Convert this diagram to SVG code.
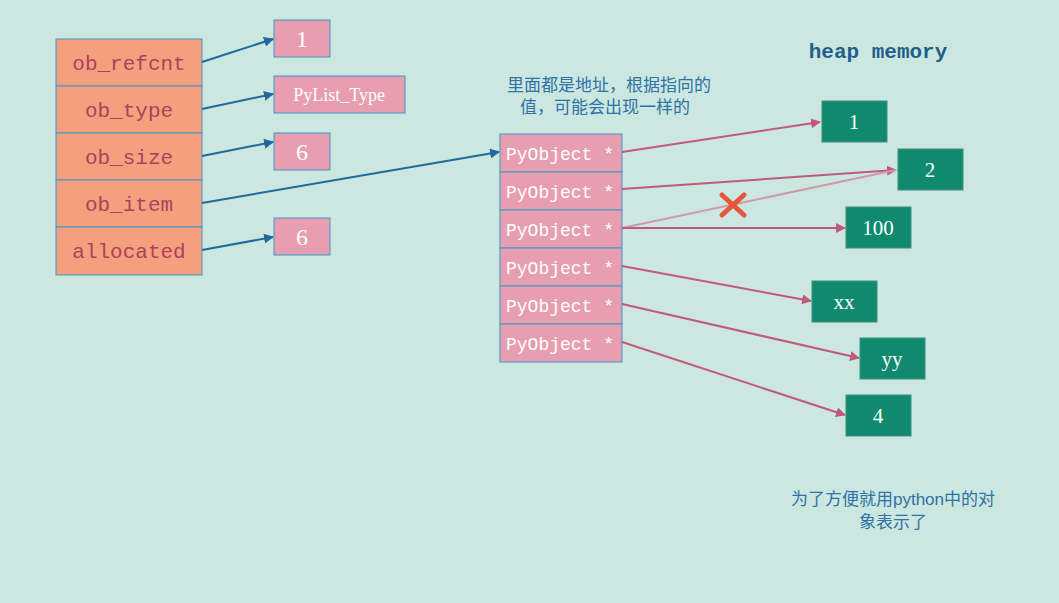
<svg xmlns="http://www.w3.org/2000/svg" width="1059" height="603" viewBox="0 0 1059 603">
<style>
.f{fill:#f4a07f;stroke:#3f97c9;stroke-width:1}
.p{fill:#e79eb0;stroke:#3f97c9;stroke-width:1}
.g{fill:#0f8a6f;stroke:#3f8f80;stroke-width:1}
.ft{font-family:"Liberation Mono","DejaVu Sans Mono",monospace;font-size:21px;fill:#b0405a;text-anchor:middle}
.pt{font-family:"Liberation Serif",serif;fill:#fff;text-anchor:middle}
.mt{font-family:"Liberation Mono",monospace;fill:#fff;font-size:18px}
.gt{font-family:"Liberation Serif",serif;fill:#fff;text-anchor:middle;font-size:21px}
.cn{font-family:"Liberation Sans","Noto Sans CJK SC",sans-serif;fill:#2e72a8;font-size:17px;text-anchor:middle}
.b{stroke:#1f6a9c;stroke-width:2;fill:none;marker-end:url(#ab)}
.r{stroke:#c05a7a;stroke-width:2;fill:none;marker-end:url(#ar)}
</style>
<defs>
<marker id="ab" markerWidth="10" markerHeight="10" refX="9" refY="5" orient="auto" markerUnits="userSpaceOnUse"><path d="M0,0 L10,5 L0,10 z" fill="#1f6a9c"/></marker>
<marker id="ar" markerWidth="10" markerHeight="10" refX="9" refY="5" orient="auto" markerUnits="userSpaceOnUse"><path d="M0,0 L10,5 L0,10 z" fill="#c05a7a"/></marker>
</defs>
<rect width="1059" height="603" fill="#cce7df"/>
<g id="struct">
<rect class="f" x="56" y="39" width="146" height="47"/><text class="ft" x="129" y="70">ob_refcnt</text>
<rect class="f" x="56" y="86" width="146" height="47"/><text class="ft" x="129" y="117">ob_type</text>
<rect class="f" x="56" y="133" width="146" height="47"/><text class="ft" x="129" y="164">ob_size</text>
<rect class="f" x="56" y="180" width="146" height="47"/><text class="ft" x="129" y="211">ob_item</text>
<rect class="f" x="56" y="227" width="146" height="48"/><text class="ft" x="129" y="258">allocated</text>
</g>
<g id="vals">
<rect class="p" x="274" y="20" width="56" height="37"/><text class="pt" x="302" y="47" font-size="24">1</text>
<rect class="p" x="274" y="76" width="131" height="37"/><text class="pt" x="339" y="101" font-size="18" font-family="Liberation Mono">PyList_Type</text>
<rect class="p" x="274" y="133" width="56" height="37"/><text class="pt" x="302" y="160" font-size="24">6</text>
<rect class="p" x="274" y="218" width="56" height="37"/><text class="pt" x="302" y="245" font-size="24">6</text>
</g>
<g id="array">
<rect class="p" x="500" y="134" width="122" height="38"/><text class="mt" x="506" y="160">PyObject *</text>
<rect class="p" x="500" y="172" width="122" height="38"/><text class="mt" x="506" y="198">PyObject *</text>
<rect class="p" x="500" y="210" width="122" height="38"/><text class="mt" x="506" y="236">PyObject *</text>
<rect class="p" x="500" y="248" width="122" height="38"/><text class="mt" x="506" y="274">PyObject *</text>
<rect class="p" x="500" y="286" width="122" height="38"/><text class="mt" x="506" y="312">PyObject *</text>
<rect class="p" x="500" y="324" width="122" height="38"/><text class="mt" x="506" y="350">PyObject *</text>
</g>
<g id="heap">
<rect class="g" x="822" y="101" width="65" height="41"/><text class="gt" x="854" y="129">1</text>
<rect class="g" x="898" y="149" width="65" height="41"/><text class="gt" x="930" y="177">2</text>
<rect class="g" x="846" y="207" width="65" height="41"/><text class="gt" x="878" y="235">100</text>
<rect class="g" x="812" y="281" width="65" height="41"/><text class="gt" x="844" y="309">xx</text>
<rect class="g" x="860" y="338" width="65" height="41"/><text class="gt" x="892" y="366">yy</text>
<rect class="g" x="846" y="395" width="65" height="41"/><text class="gt" x="878" y="423">4</text>
</g>
<g id="labels">
<text x="878" y="58" font-family="Liberation Mono,monospace" font-weight="bold" font-size="21" fill="#1f5f8a" text-anchor="middle">heap memory</text>
<text class="cn" x="609" y="91">里面都是地址，根据指向的</text>
<text class="cn" x="605" y="113">值，可能会出现一样的</text>
<text class="cn" x="893" y="505">为了方便就用python中的对</text>
<text class="cn" x="893" y="528">象表示了</text>
</g>
<g id="connectors">
<line class="b" x1="202" y1="62" x2="273" y2="39"/>
<line class="b" x1="202" y1="109" x2="273" y2="94"/>
<line class="b" x1="202" y1="156" x2="273" y2="142"/>
<line class="b" x1="202" y1="203" x2="499" y2="152"/>
<line class="b" x1="202" y1="250" x2="273" y2="237"/>
<line class="r" x1="622" y1="152" x2="820" y2="122"/>
<line class="r" x1="622" y1="189" x2="896" y2="170"/>
<line x1="622" y1="228" x2="896" y2="170" stroke="#d09aab" stroke-width="2"/>
<line class="r" x1="622" y1="228" x2="845" y2="228"/>
<line class="r" x1="622" y1="266" x2="811" y2="301"/>
<line class="r" x1="622" y1="304" x2="859" y2="358"/>
<line class="r" x1="622" y1="342" x2="845" y2="415"/>
<path d="M722,195 L744,215 M744,195 L722,215" stroke="#e8553f" stroke-width="5" stroke-linecap="round"/>
</g>
</svg>
